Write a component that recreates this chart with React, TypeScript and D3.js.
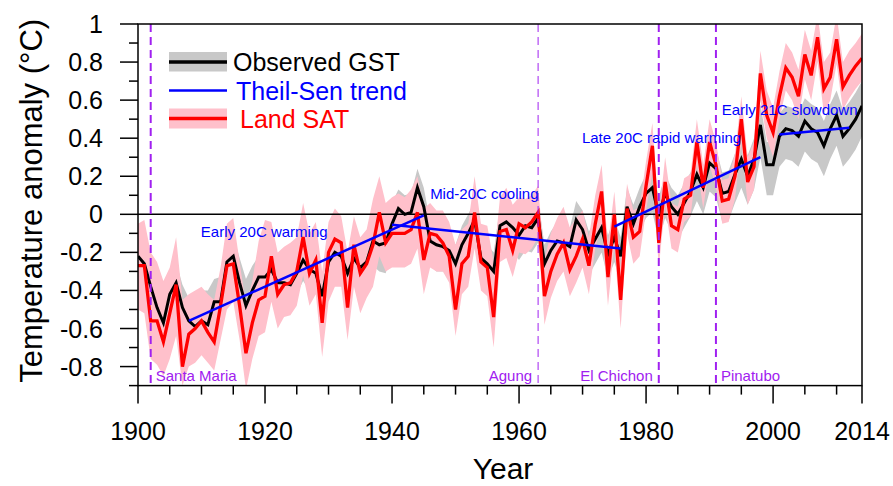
import React from 'react';
import * as d3 from 'd3';

const years: number[] = d3.range(1900, 2015);

// Observed global surface temperature (GST) anomaly, °C
const gst = [
  -0.22, -0.26, -0.38, -0.49, -0.57, -0.42, -0.36, -0.49, -0.56, -0.59,
  -0.56, -0.58, -0.46, -0.46, -0.25, -0.22, -0.36, -0.48, -0.40, -0.33,
  -0.33, -0.29, -0.36, -0.36, -0.37, -0.31, -0.24, -0.29, -0.31, -0.43,
  -0.25, -0.20, -0.22, -0.31, -0.23, -0.28, -0.25, -0.14, -0.16, -0.15,
  -0.05, 0.03, 0.00, 0.01, 0.14, 0.04, -0.14, -0.16, -0.17, -0.19,
  -0.26, -0.16, -0.10, -0.03, -0.23, -0.26, -0.30, -0.06, -0.04, -0.07,
  -0.11, -0.06, -0.07, -0.02, -0.26, -0.19, -0.14, -0.15, -0.17, -0.03,
  -0.08, -0.19, -0.13, -0.07, -0.21, -0.12, -0.22, 0.04, -0.05, 0.04,
  0.11, 0.14, -0.01, 0.11, 0.04, 0.00, 0.06, 0.12, 0.21, 0.14,
  0.27, 0.24, 0.11, 0.12, 0.21, 0.29, 0.20, 0.29, 0.47, 0.26,
  0.26, 0.41, 0.45, 0.44, 0.41, 0.49, 0.45, 0.43, 0.36, 0.45,
  0.52, 0.41, 0.45, 0.50, 0.57,
];
const gstHi = [
  -0.12, -0.15, -0.27, -0.38, -0.46, -0.31, -0.25, -0.37, -0.44, -0.43,
  -0.40, -0.40, -0.34, -0.33, -0.14, -0.11, -0.23, -0.34, -0.27, -0.22,
  -0.21, -0.18, -0.24, -0.24, -0.25, -0.20, -0.13, -0.18, -0.20, -0.32,
  -0.14, -0.09, -0.11, -0.20, -0.12, -0.17, -0.14, -0.03, -0.05, -0.04,
  0.06, 0.13, 0.10, 0.11, 0.24, 0.14, -0.04, -0.06, -0.07, -0.09,
  -0.16, -0.06, 0.00, 0.07, -0.13, -0.16, -0.20, 0.04, 0.06, 0.03,
  -0.01, 0.04, 0.03, 0.08, -0.16, -0.09, -0.04, -0.05, -0.07, 0.07,
  0.02, -0.09, -0.03, 0.03, -0.11, -0.02, -0.12, 0.14, 0.05, 0.14,
  0.21, 0.24, 0.09, 0.21, 0.14, 0.10, 0.16, 0.22, 0.31, 0.25,
  0.37, 0.35, 0.22, 0.23, 0.32, 0.40, 0.31, 0.40, 0.58, 0.38,
  0.38, 0.53, 0.57, 0.56, 0.53, 0.61, 0.58, 0.56, 0.49, 0.58,
  0.65, 0.55, 0.59, 0.64, 0.70,
];
const gstLo = [
  -0.33, -0.37, -0.49, -0.60, -0.68, -0.53, -0.47, -0.60, -0.67, -0.70,
  -0.67, -0.69, -0.57, -0.57, -0.36, -0.33, -0.47, -0.59, -0.51, -0.44,
  -0.44, -0.40, -0.47, -0.47, -0.48, -0.42, -0.35, -0.40, -0.42, -0.54,
  -0.36, -0.31, -0.33, -0.42, -0.34, -0.39, -0.37, -0.27, -0.30, -0.31,
  -0.19, -0.11, -0.13, -0.12, 0.00, -0.10, -0.27, -0.30, -0.30, -0.32,
  -0.39, -0.29, -0.23, -0.16, -0.36, -0.39, -0.43, -0.19, -0.17, -0.20,
  -0.24, -0.19, -0.20, -0.15, -0.39, -0.32, -0.27, -0.28, -0.30, -0.16,
  -0.21, -0.32, -0.26, -0.20, -0.34, -0.25, -0.35, -0.09, -0.18, -0.09,
  -0.02, 0.01, -0.14, -0.02, -0.09, -0.13, -0.07, -0.01, 0.07, 0.00,
  0.12, 0.09, -0.04, -0.03, 0.06, 0.14, 0.05, 0.13, 0.30, 0.10,
  0.10, 0.25, 0.29, 0.28, 0.25, 0.33, 0.29, 0.27, 0.20, 0.29,
  0.36, 0.25, 0.29, 0.34, 0.41,
];

// Land surface air temperature (SAT) anomaly, °C
const landSat = [
  -0.27, -0.27, -0.56, -0.56, -0.67, -0.52, -0.37, -0.80, -0.63, -0.60,
  -0.56, -0.62, -0.67, -0.48, -0.27, -0.26, -0.48, -0.73, -0.57, -0.45,
  -0.43, -0.22, -0.42, -0.37, -0.36, -0.30, -0.12, -0.31, -0.24, -0.57,
  -0.20, -0.13, -0.15, -0.49, -0.16, -0.31, -0.26, -0.16, 0.01, -0.15,
  -0.10, -0.10, -0.10, -0.08, 0.01, -0.24, -0.10, -0.11, -0.15, -0.22,
  -0.50, -0.26, -0.22, 0.01, -0.25, -0.28, -0.54, -0.09, -0.08, -0.19,
  -0.05, -0.07, -0.04, 0.01, -0.43, -0.30, -0.21, -0.15, -0.29, -0.22,
  -0.13, -0.27, -0.05, 0.12, -0.33, 0.00, -0.45, 0.03, -0.12, -0.09,
  0.15, 0.36, -0.15, 0.17, -0.06, -0.08, 0.08, 0.10, 0.38, 0.14,
  0.38, 0.26, 0.07, 0.08, 0.20, 0.50, 0.17, 0.25, 0.74, 0.52,
  0.43, 0.62, 0.77, 0.72, 0.62, 0.84, 0.73, 0.93, 0.66, 0.72,
  0.92, 0.67, 0.73, 0.78, 0.82,
];
const landHi = [
  -0.05, -0.03, -0.20, -0.25, -0.35, -0.28, -0.12, -0.45, -0.42, -0.40,
  -0.38, -0.42, -0.45, -0.28, -0.05, -0.02, -0.25, -0.48, -0.35, -0.14,
  -0.03, -0.04, -0.20, -0.17, -0.15, -0.12, 0.06, -0.10, -0.04, -0.30,
  -0.04, 0.03, -0.01, -0.20, -0.01, -0.12, -0.08, 0.08, 0.20, 0.06,
  0.09, 0.11, 0.09, 0.13, 0.20, 0.03, 0.06, 0.02, 0.02, -0.04,
  -0.16, -0.08, -0.05, 0.20, -0.05, -0.06, -0.25, 0.09, 0.14, 0.05,
  0.09, 0.08, 0.10, 0.15, -0.24, -0.10, -0.02, 0.04, -0.07, -0.02,
  0.02, -0.12, 0.10, 0.26, -0.16, 0.12, -0.28, 0.16, 0.02, 0.04,
  0.28, 0.48, -0.02, 0.30, 0.06, 0.04, 0.19, 0.21, 0.50, 0.26,
  0.50, 0.38, 0.18, 0.19, 0.32, 0.62, 0.30, 0.38, 0.86, 0.65,
  0.56, 0.75, 0.90, 0.85, 0.76, 0.97, 0.86, 1.05, 0.80, 0.85,
  1.05, 0.80, 0.86, 0.90, 0.95,
];
const landLo = [
  -0.50, -0.52, -0.76, -0.79, -0.85, -0.76, -0.64, -0.90, -0.80, -0.78,
  -0.74, -0.78, -0.82, -0.66, -0.50, -0.46, -0.66, -0.92, -0.76, -0.64,
  -0.62, -0.46, -0.60, -0.54, -0.53, -0.48, -0.32, -0.48, -0.42, -0.75,
  -0.46, -0.38, -0.38, -0.66, -0.38, -0.52, -0.44, -0.38, -0.22, -0.30,
  -0.28, -0.28, -0.28, -0.26, -0.18, -0.42, -0.28, -0.30, -0.30, -0.36,
  -0.64, -0.42, -0.38, -0.18, -0.40, -0.43, -0.70, -0.25, -0.23, -0.33,
  -0.20, -0.21, -0.18, -0.12, -0.58, -0.44, -0.35, -0.30, -0.43, -0.36,
  -0.28, -0.42, -0.18, -0.05, -0.48, -0.16, -0.60, -0.10, -0.26, -0.22,
  0.02, 0.22, -0.28, 0.05, -0.18, -0.20, -0.04, -0.01, 0.26, 0.03,
  0.26, 0.14, -0.05, -0.04, 0.08, 0.38, 0.05, 0.13, 0.60, 0.40,
  0.30, 0.50, 0.65, 0.60, 0.50, 0.71, 0.60, 0.80, 0.53, 0.60,
  0.79, 0.55, 0.61, 0.66, 0.70,
];

// Theil-Sen trend segments
const trendNames = ['Early 20C warming', 'Mid-20C cooling', 'Late 20C rapid warming', 'Early 21C slowdown'];
const trendStartYear = [1908, 1940, 1975, 2001];
const trendEndYear = [1945, 1976, 1998, 2012];
const trendStartVal = [-0.56, -0.055, -0.065, 0.42];
const trendEndVal = [-0.005, -0.18, 0.30, 0.455];
// label anchor (left/baseline) in data coordinates
const trendLabelYear = [1909.9, 1946.0, 1969.9, 1991.9];
const trendLabelVal = [-0.12, 0.083, 0.377, 0.524];

// Volcanic eruptions
const volcanoNames = ['Santa Maria', 'Agung', 'El Chichon', 'Pinatubo'];
const volcanoYears = [1902, 1963, 1982, 1991];
const volcanoLabelSide = ['right', 'left', 'left', 'right'];
const volcanoWidth = [2, 1, 2, 2];

const yTickValues = [-0.8, -0.6, -0.4, -0.2, 0, 0.2, 0.4, 0.6, 0.8, 1];
const yMinorValues = [-0.9, -0.7, -0.5, -0.3, -0.1, 0.1, 0.3, 0.5, 0.7, 0.9];
const xTickValues = [1900, 1920, 1940, 1960, 1980, 2000, 2014];
const xMinorValues = [1905, 1910, 1915, 1925, 1930, 1935, 1945, 1950, 1955, 1965, 1970, 1975, 1985, 1990, 1995, 2005, 2010];

const FONT = "'Liberation Sans', Arial, Helvetica, sans-serif";
const PURPLE = '#a020f0';
const PINK = '#ffc0cb';
const GRAY = '#c8c8c8';

export default function App() {
  const W = 893, H = 486;
  const L = 138, R = 862, T = 24, B = 385.6;
  const x = d3.scaleLinear().domain([1900, 2014]).range([L, R]);
  const y = d3.scaleLinear().domain([-0.9, 1]).range([B, T]);

  const band = (lo: number[], hi: number[]) =>
    d3.area<number>()
      .x((d) => x(d))
      .y0((_, i) => y(lo[i]))
      .y1((_, i) => y(hi[i]))(years) || '';
  const line = (vals: number[]) =>
    d3.line<number>()
      .x((d) => x(d))
      .y((_, i) => y(vals[i]))(years) || '';

  const legendX0 = 169, legendX1 = 227;

  return (
    <svg width={W} height={H} style={{ position: 'absolute', left: 0, top: 0, background: '#fff' }} fontFamily={FONT}>
      <defs>
        <clipPath id="plotClip">
          <rect x={L} y={T} width={R - L} height={B - T} />
        </clipPath>
      </defs>

      <g clipPath="url(#plotClip)">
        <path d={band(gstLo, gstHi)} fill={GRAY} stroke="none" />
        <path d={band(landLo, landHi)} fill={PINK} stroke="none" />
        <line x1={L} x2={R} y1={y(0)} y2={y(0)} stroke="#000" strokeWidth={1.5} />
        <path d={line(gst)} fill="none" stroke="#000" strokeWidth={3} />
        <path d={line(landSat)} fill="none" stroke="#ff0000" strokeWidth={3.3} />
        {trendNames.map((n, i) => (
          <line key={n} x1={x(trendStartYear[i])} y1={y(trendStartVal[i])} x2={x(trendEndYear[i])} y2={y(trendEndVal[i])}
            stroke="#0000ff" strokeWidth={2.5} />
        ))}
        {volcanoYears.map((v, i) => (
          <line key={v} x1={x(v)} x2={x(v)} y1={T} y2={B} stroke={PURPLE} strokeWidth={volcanoWidth[i]} strokeDasharray="8,5" />
        ))}
      </g>

      {trendNames.map((n, i) => (
        <text key={n} x={x(trendLabelYear[i])} y={y(trendLabelVal[i])} fontSize={15} fill="#0000ff">{n}</text>
      ))}

      {volcanoNames.map((n, i) => (
        <text key={n} x={volcanoLabelSide[i] === 'right' ? x(volcanoYears[i]) + 5 : x(volcanoYears[i]) - 6}
          y={381} fontSize={15} fill={PURPLE} textAnchor={volcanoLabelSide[i] === 'right' ? 'start' : 'end'}>{n}</text>
      ))}

      {/* frame */}
      <rect x={L} y={T} width={R - L} height={B - T} fill="none" stroke="#000" strokeWidth={1.5} />

      {/* y axis ticks */}
      {yTickValues.map((v) => (
        <g key={v}>
          <line x1={L - 18} x2={L} y1={y(v)} y2={y(v)} stroke="#000" strokeWidth={1.5} />
          <text x={103} y={y(v)} dy="0.36em" textAnchor="end" fontSize={25} fill="#000">{String(v)}</text>
        </g>
      ))}
      {yMinorValues.map((v) => (
        <line key={v} x1={L - 9} x2={L} y1={y(v)} y2={y(v)} stroke="#000" strokeWidth={1.5} />
      ))}

      {/* x axis ticks */}
      {xTickValues.map((v) => (
        <g key={v}>
          <line x1={x(v)} x2={x(v)} y1={B} y2={B + 18} stroke="#000" strokeWidth={1.5} />
          <text x={x(v)} y={440} textAnchor="middle" fontSize={25} fill="#000">{v}</text>
        </g>
      ))}
      {xMinorValues.map((v) => (
        <line key={v} x1={x(v)} x2={x(v)} y1={B} y2={B + 9} stroke="#000" strokeWidth={1.5} />
      ))}

      {/* axis titles */}
      <text x={503} y={479} textAnchor="middle" fontSize={30} fill="#000">Year</text>
      <text transform={`translate(42, ${(T + B) / 2 - 4}) rotate(-90)`} textAnchor="middle" fontSize={31} fill="#000">
        Temperature anomaly (°C)
      </text>

      {/* legend */}
      <rect x={legendX0} y={52} width={legendX1 - legendX0} height={19.5} fill={GRAY} />
      <line x1={legendX0} x2={legendX1} y1={62} y2={62} stroke="#000" strokeWidth={3.5} />
      <text x={233} y={71} fontSize={25} fill="#000">Observed GST</text>

      <line x1={legendX0} x2={legendX1} y1={90.5} y2={90.5} stroke="#0000ff" strokeWidth={2.5} />
      <text x={236} y={99.5} fontSize={25} fill="#0000ff">Theil-Sen trend</text>

      <rect x={legendX0} y={108.5} width={legendX1 - legendX0} height={20} fill={PINK} />
      <line x1={legendX0} x2={legendX1} y1={118.5} y2={118.5} stroke="#ff0000" strokeWidth={3.5} />
      <text x={240} y={128} fontSize={25} fill="#ff0000">Land SAT</text>
    </svg>
  );
}
